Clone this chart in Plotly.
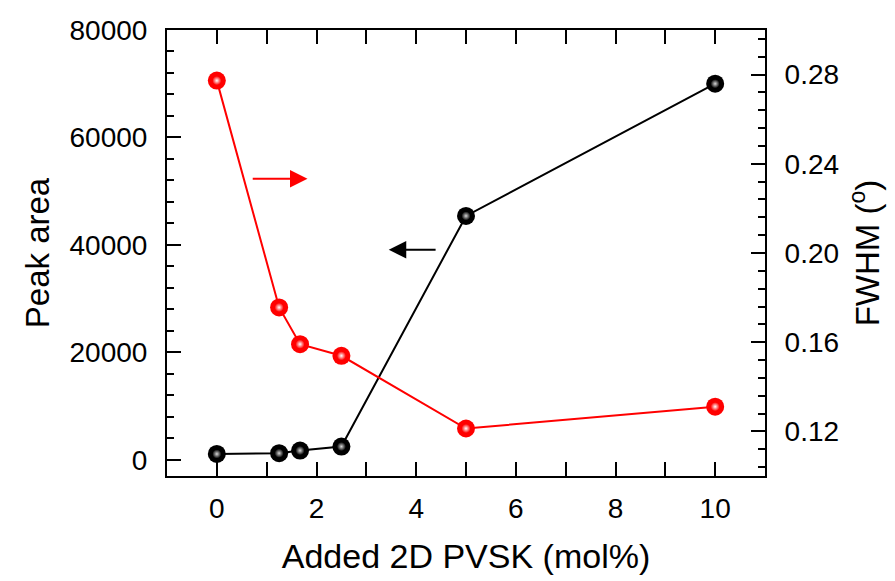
import plotly.graph_objects as go

# Added 2D perovskite content (mol%)
added_mol = [0, 1.25, 1.67, 2.5, 5, 10]
# Integrated peak area (left axis)
peak_area = [1100, 1240, 1740, 2480, 45400, 70000]
# FWHM in degrees (right axis)
fwhm = [0.2773, 0.1756, 0.1591, 0.1539, 0.1213, 0.1311]

FONT = "Liberation Sans, Arial, sans-serif"
RED = "#ff0000"
BLACK = "#000000"

fig = go.Figure()


def ball_trace(x, y, color, shine, axis):
    """Line with sphere-like markers: solid ball plus a soft highlight."""
    fig.add_trace(go.Scatter(
        x=x, y=y, yaxis=axis, mode="lines+markers",
        line=dict(color=color, width=2),
        marker=dict(size=18, color=color, line=dict(width=0)),
        showlegend=False, hoverinfo="skip"))
    fig.add_trace(go.Scatter(
        x=x, y=y, yaxis=axis, mode="markers",
        marker=dict(size=9, color=color, line=dict(width=0),
                    gradient=dict(type="radial", color=shine)),
        showlegend=False, hoverinfo="skip"))


ball_trace(added_mol, fwhm, RED, "#ffffff", "y2")
ball_trace(added_mol, peak_area, BLACK, "#d8d8d8", "y")

axis_common = dict(
    showgrid=False, zeroline=False, showline=True, linecolor="black",
    linewidth=2, ticks="inside", ticklen=14, tickwidth=2, tickcolor="black",
    tickfont=dict(family=FONT, size=28, color="black"),
)
minor_common = dict(ticks="inside", ticklen=7, tickwidth=2, tickcolor="black")

fig.update_layout(
    width=895, height=581,
    margin=dict(l=167, r=130, t=30, b=103),
    paper_bgcolor="white", plot_bgcolor="white",
    font=dict(family=FONT, color="black"),
    xaxis=dict(
        **axis_common, range=[-1, 11], tick0=0, dtick=2, mirror="allticks",
        minor=dict(dtick=1, **minor_common),
        ticklabelstandoff=6,
        title=dict(text="Added 2D PVSK (mol%)",
                   font=dict(family=FONT, size=34), standoff=22),
    ),
    yaxis=dict(
        **axis_common, range=[-3000, 80000], tick0=0, dtick=20000,
        tickformat="d",
        minor=dict(dtick=4000, **minor_common),
        ticklabelstandoff=12,
        title=dict(text="Peak area", font=dict(family=FONT, size=33),
                   standoff=10),
    ),
    yaxis2=dict(
        **axis_common, overlaying="y", side="right",
        range=[0.1, 0.3], tick0=0.12, dtick=0.04, tickformat=".2f",
        minor=dict(dtick=0.008, **minor_common),
        ticklabelstandoff=12,
        title=dict(text="FWHM (<sup>o</sup>)",
                   font=dict(family=FONT, size=33), standoff=18),
    ),
)

# Arrows pointing each curve toward its axis
fig.add_annotation(x=1.82, y=52300, ax=0.69, ay=52300, xref="x", yref="y",
                   axref="x", ayref="y", text="", showarrow=True,
                   arrowhead=2, arrowsize=1.75, arrowwidth=2, arrowcolor=RED)
fig.add_annotation(x=3.45, y=39100, ax=4.42, ay=39100, xref="x", yref="y",
                   axref="x", ayref="y", text="", showarrow=True,
                   arrowhead=2, arrowsize=1.75, arrowwidth=2,
                   arrowcolor=BLACK)

fig.write_html("out.html")
